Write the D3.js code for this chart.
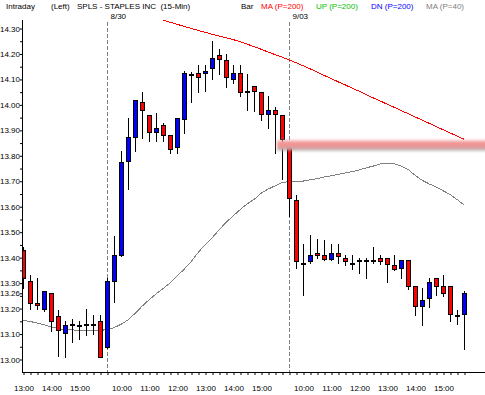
<!DOCTYPE html>
<html>
<head>
<meta charset="utf-8">
<style>
  body { margin: 0; background: #fff; }
  svg text { font-family: "Liberation Sans", Arial, sans-serif; font-size: 8px; fill: #000; }
</style>
<script src="https://d3js.org/d3.v7.min.js"></script>
</head>
<body>
<div id="chart"></div>
<script>
// 15-min bars: 8/29 13:00-15:45, 8/30 9:30-15:45, 9/03 9:30-15:45
var hourTickBars   = [0, 4, 8, 14, 18, 22, 26, 30, 34, 40, 44, 48, 52, 56, 60];
var hourTickLabels = ["13:00", "14:00", "15:00", "10:00", "11:00", "12:00", "13:00", "14:00", "15:00",
                      "10:00", "11:00", "12:00", "13:00", "14:00", "15:00"];
var dayStartBars = [12, 38];
var dayLabels    = ["8/30", "9/03"];

var priceTicks  = [13.00, 13.10, 13.20, 13.30, 13.40, 13.50, 13.60, 13.70, 13.80, 13.90, 14.00, 14.10, 14.20, 14.30];
var lastPrice   = 13.26;
var bandPrice   = 13.845;

var opens  = [13.43, 13.31, 13.22, 13.20, 13.26, 13.17, 13.105, 13.14, 13.135, 13.14, 13.14, 13.15,
              13.05, 13.31, 13.41, 13.78, 13.875, 14.01, 13.96, 13.895, 13.92, 13.88, 13.835, 13.945,
              14.12, 14.125, 14.125, 14.145, 14.195, 14.175, 14.10, 14.125, 14.055, 14.075, 14.05, 13.965,
              13.98, 13.96, 13.835, 13.625, 13.38, 13.385, 13.42, 13.41, 13.395, 13.42, 13.40, 13.38,
              13.39, 13.39, 13.39, 13.40, 13.40, 13.37, 13.36, 13.39, 13.29, 13.21, 13.24, 13.32,
              13.29, 13.29, 13.175, 13.18];
var highs  = [13.44, 13.33, 13.32, 13.27, 13.26, 13.195, 13.15, 13.16, 13.15, 13.20, 13.175, 13.175,
              13.32, 13.485, 13.82, 13.95, 14.02, 14.05, 13.96, 13.97, 13.93, 13.88, 13.95, 14.135,
              14.13, 14.155, 14.155, 14.25, 14.22, 14.20, 14.155, 14.155, 14.12, 14.075, 14.05, 14.035,
              13.99, 13.96, 13.855, 13.645, 13.455, 13.49, 13.475, 13.47, 13.455, 13.455, 13.41, 13.41,
              13.40, 13.40, 13.44, 13.41, 13.40, 13.41, 13.39, 13.39, 13.29, 13.28, 13.32, 13.32,
              13.33, 13.29, 13.195, 13.27];
var lows   = [13.28, 13.20, 13.20, 13.19, 13.11, 13.015, 13.01, 13.07, 13.08, 13.095, 13.10, 13.01,
              13.045, 13.225, 13.405, 13.67, 13.82, 13.87, 13.86, 13.86, 13.86, 13.81, 13.81, 13.89,
              14.01, 14.05, 14.055, 14.10, 14.12, 14.07, 14.085, 14.035, 13.98, 13.975, 13.94, 13.91,
              13.81, 13.71, 13.565, 13.36, 13.255, 13.38, 13.40, 13.39, 13.39, 13.38, 13.37, 13.355,
              13.34, 13.32, 13.38, 13.375, 13.305, 13.35, 13.32, 13.275, 13.175, 13.135, 13.205, 13.255,
              13.25, 13.15, 13.14, 13.04];
var closes = [13.32, 13.22, 13.215, 13.27, 13.15, 13.115, 13.135, 13.14, 13.135, 13.14, 13.14, 13.01,
              13.31, 13.41, 13.775, 13.875, 14.02, 13.98, 13.895, 13.91, 13.88, 13.825, 13.95, 14.125,
              14.12, 14.11, 14.135, 14.185, 14.18, 14.11, 14.125, 14.05, 14.055, 14.055, 13.965, 13.98,
              13.965, 13.865, 13.635, 13.385, 13.38, 13.41, 13.41, 13.395, 13.42, 13.405, 13.385, 13.38,
              13.39, 13.39, 13.39, 13.385, 13.375, 13.355, 13.39, 13.29, 13.21, 13.235, 13.305, 13.29,
              13.26, 13.18, 13.175, 13.26];

var ma200 = [null, null, null, null, null, null, null, null, null, null,
             null, null, null, null, null, null, null, null, null, null,
             14.332, 14.324, 14.316, 14.308, 14.300, 14.292, 14.285, 14.277, 14.270, 14.263,
             14.256, 14.248, 14.238, 14.228, 14.218, 14.207, 14.197, 14.187, 14.176, 14.165,
             14.153, 14.141, 14.128, 14.115, 14.103, 14.090, 14.078, 14.065, 14.053, 14.040,
             14.027, 14.015, 14.002, 13.990, 13.977, 13.965, 13.952, 13.940, 13.927, 13.914,
             13.902, 13.889, 13.877, 13.864];
var ma40  = [13.154, 13.149, 13.143, 13.136, 13.128, 13.121, 13.117, 13.116, 13.115, 13.115,
             13.115, 13.115, 13.117, 13.126, 13.139, 13.157, 13.183, 13.211, 13.236, 13.259,
             13.280, 13.302, 13.329, 13.356, 13.386, 13.422, 13.452, 13.480, 13.511, 13.540,
             13.565, 13.590, 13.612, 13.630, 13.654, 13.670, 13.683, 13.696, 13.698, 13.700,
             13.701, 13.706, 13.711, 13.717, 13.722, 13.727, 13.733, 13.738, 13.745, 13.753,
             13.760, 13.768, 13.768, 13.768, 13.759, 13.745, 13.722, 13.703, 13.689, 13.677,
             13.662, 13.647, 13.627, 13.605];

var width = 485, height = 395;
var plotLeft = 22, plotTop = 20, plotBottom = 372;

var svg = d3.select("#chart").append("svg")
    .attr("width", width)
    .attr("height", height);

var x = d3.scaleLinear().domain([0, opens.length - 1]).range([23.5, 23.5 + 7 * (opens.length - 1)]);
var y = d3.scaleLinear().domain([13.00, 14.30]).range([359.5, 28.5]);
var py = function(v) { return Math.round(y(v)); };

var defs = svg.append("defs");
defs.append("clipPath").attr("id", "plot")
  .append("rect").attr("x", plotLeft + 1).attr("y", plotTop)
    .attr("width", width - plotLeft - 1).attr("height", plotBottom - plotTop);

var plot = svg.append("g").attr("clip-path", "url(#plot)");

// day separators
plot.selectAll(".sep")
  .data(dayStartBars)
  .enter().append("line")
    .attr("x1", function(d) { return x(d); })
    .attr("x2", function(d) { return x(d); })
    .attr("y1", plotTop + 2).attr("y2", plotBottom)
    .attr("stroke", "#808080")
    .attr("stroke-dasharray", "4,2");

// moving averages
var line = d3.line()
    .defined(function(d) { return d != null; })
    .x(function(d, i) { return x(i); })
    .y(function(d) { return y(d); });

plot.append("path").datum(ma40)
    .attr("d", line).attr("fill", "none").attr("stroke", "#808080").attr("stroke-width", 1)
    .attr("shape-rendering", "crispEdges");
plot.append("path").datum(ma200)
    .attr("d", line).attr("fill", "none").attr("stroke", "#ff0000").attr("stroke-width", 1)
    .attr("shape-rendering", "crispEdges");

// candles
var bars = d3.range(opens.length);
var candle = plot.selectAll(".candle")
  .data(bars)
  .enter().append("g")
    .attr("class", "candle");

candle.append("line")
    .attr("x1", function(i) { return x(i); })
    .attr("x2", function(i) { return x(i); })
    .attr("y1", function(i) { return py(highs[i]); })
    .attr("y2", function(i) { return py(lows[i]) + 1; })
    .attr("stroke", "#000");

candle.append("rect")
    .attr("x", function(i) { return x(i) - 2; })
    .attr("width", 4)
    .attr("y", function(i) { return py(Math.max(opens[i], closes[i])) + 0.5; })
    .attr("height", function(i) {
      return Math.max(1, py(Math.min(opens[i], closes[i])) - py(Math.max(opens[i], closes[i])));
    })
    .attr("fill", function(i) {
      if (closes[i] > opens[i]) return "#0000ff";
      if (closes[i] < opens[i]) return "#ff0000";
      return "#000";
    })
    .attr("stroke", "#000")
    .attr("stroke-width", 1);

// highlighted level band
defs.append("filter").attr("id", "blur").attr("x", "-10%").attr("y", "-100%").attr("width", "120%").attr("height", "300%")
  .append("feGaussianBlur").attr("stdDeviation", 1.6);
var grad = defs.append("linearGradient").attr("id", "bandGrad").attr("x1", 0).attr("y1", 0).attr("x2", 0).attr("y2", 1);
grad.append("stop").attr("offset", "0%").attr("stop-color", "#f7b0b0");
grad.append("stop").attr("offset", "45%").attr("stop-color", "#ef8a8a");
grad.append("stop").attr("offset", "70%").attr("stop-color", "#e6a4a4");
grad.append("stop").attr("offset", "100%").attr("stop-color", "#9a9a9a");

svg.append("rect")
    .attr("x", 277).attr("width", width - 277 + 6)
    .attr("y", y(bandPrice) - 4).attr("height", 10)
    .attr("fill", "url(#bandGrad)")
    .attr("filter", "url(#blur)");

// axes
var yTicks = d3.range(1300, 1431, 5).map(function(v) { return v / 100; }).concat([lastPrice]);
var yAxis = d3.axisLeft(y)
    .tickValues(yTicks)
    .tickSize(2)
    .tickPadding(0)
    .tickFormat(function(v) {
      if (v === lastPrice) return d3.format(".2f")(v);
      var hit = priceTicks.some(function(t) { return Math.abs(t - v) < 1e-6; });
      return hit ? d3.format(".2f")(v) : "";
    });
svg.append("g")
    .attr("transform", "translate(" + plotLeft + ",0)")
    .call(yAxis)
    .call(function(g) { g.select(".domain").remove(); })
    .call(function(g) { g.selectAll("text").attr("font-size", null).attr("font-family", null); });

var labelOf = {};
hourTickBars.forEach(function(b, k) { labelOf[b] = hourTickLabels[k]; });
var xAxis = d3.axisBottom(x)
    .tickValues(bars)
    .tickSize(3)
    .tickPadding(10)
    .tickFormat(function(i) { return labelOf[i] || ""; });
svg.append("g")
    .attr("transform", "translate(0," + plotBottom + ")")
    .call(xAxis)
    .call(function(g) { g.select(".domain").remove(); })
    .call(function(g) { g.selectAll("text").attr("font-size", null).attr("font-family", null); });

svg.append("line")
    .attr("x1", plotLeft + 0.5).attr("x2", plotLeft + 0.5)
    .attr("y1", plotTop).attr("y2", plotBottom + 1)
    .attr("stroke", "#000");
svg.append("line")
    .attr("x1", plotLeft).attr("x2", width)
    .attr("y1", plotBottom + 0.5).attr("y2", plotBottom + 0.5)
    .attr("stroke", "#000");

// day labels
svg.selectAll(".day")
  .data(dayStartBars)
  .enter().append("text")
    .attr("x", function(d) { return x(d) + 3; })
    .attr("y", 18.5)
    .text(function(d, k) { return dayLabels[k]; });

// header
var header = [
  { t: "Intraday", x: 6, c: "#000" },
  { t: "(Left)", x: 51, c: "#000" },
  { t: "SPLS - STAPLES INC  (15-Min)", x: 77, c: "#000" },
  { t: "Bar", x: 241, c: "#000" },
  { t: "MA (P=200)", x: 261, c: "#ff0000" },
  { t: "UP (P=200)", x: 316, c: "#00c000" },
  { t: "DN (P=200)", x: 371, c: "#0000ff" },
  { t: "MA (P=40)", x: 426, c: "#808080" }
];
svg.selectAll(".hdr")
  .data(header)
  .enter().append("text")
    .attr("x", function(d) { return d.x; })
    .attr("y", 8.5)
    .style("white-space", "pre")
    .style("fill", function(d) { return d.c; })
    .text(function(d) { return d.t; });
</script>
</body>
</html>
